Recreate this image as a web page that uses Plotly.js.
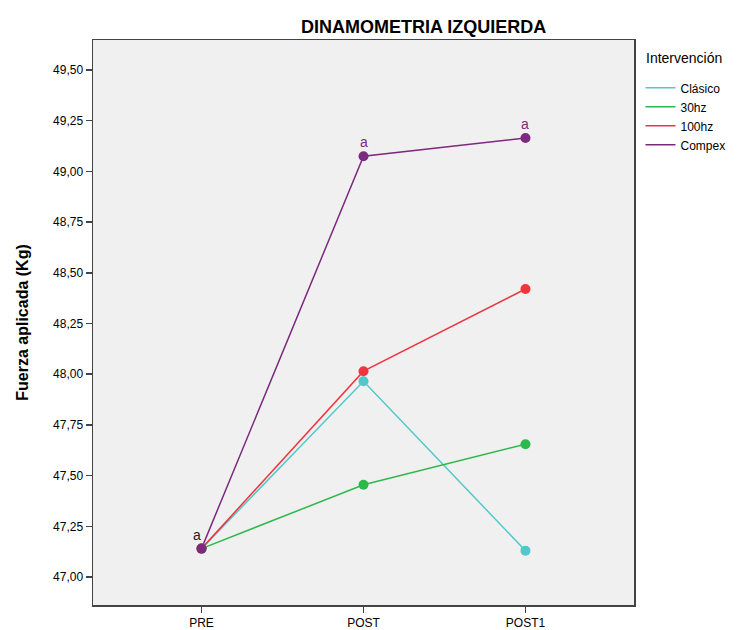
<!DOCTYPE html>
<html>
<head>
<meta charset="utf-8">
<script src="https://cdn.plot.ly/plotly-3.0.1.min.js"></script>
<style>html,body{margin:0;padding:0;background:#fff;}#chart{width:742px;height:630px;}</style>
</head>
<body>
<div id="chart"></div>
<script>
const categories = ["PRE", "POST", "POST1"];
const seriesNames = ["Clásico", "30hz", "100hz", "Compex"];
const clasico = [47.14, 47.965, 47.13];
const hz30 = [47.14, 47.455, 47.655];
const hz100 = [47.14, 48.015, 48.42];
const compex = [47.14, 49.075, 49.165];
const colors = ["#52c8ca", "#2db84c", "#f0353f", "#7b2a7f"];
const tickVals = [47.00, 47.25, 47.50, 47.75, 48.00, 48.25, 48.50, 48.75, 49.00, 49.25, 49.50];
const tickText = ["47,00", "47,25", "47,50", "47,75", "48,00", "48,25", "48,50", "48,75", "49,00", "49,25", "49,50"];
const annotCats = ["PRE", "POST", "POST1"];
const annotVals = [47.14, 49.075, 49.165];
const annotText = ["a", "a", "a"];
const annotColors = ["#222222", "#7b2a7f", "#7b2a7f"];
const legendTitle = "Intervención";

const series = [clasico, hz30, hz100, compex];
const traces = [];
series.forEach((vals, i) => {
  traces.push({
    x: categories, y: vals, type: "scatter", mode: "lines",
    name: seriesNames[i], line: {color: colors[i], width: 1.5},
    showlegend: true, hoverinfo: "skip"
  });
});
series.forEach((vals, i) => {
  traces.push({
    x: categories, y: vals, type: "scatter", mode: "markers",
    marker: {color: colors[i], size: 10}, showlegend: false, hoverinfo: "skip"
  });
});

const annotations = annotCats.map((c, i) => ({
  x: c, y: annotVals[i], xref: "x", yref: "y", text: annotText[i],
  showarrow: false, yshift: 14, xshift: i === 0 ? -5 : 0,
  font: {family: "Liberation Sans, Arial, sans-serif", size: 14, color: annotColors[i]}
}));
annotations.push({
  x: 1.0185, y: 0.968, xref: "paper", yref: "paper", xanchor: "left", yanchor: "middle",
  text: legendTitle, showarrow: false,
  font: {family: "Liberation Sans, Arial, sans-serif", size: 14, color: "#000"}
});

const layout = {
  width: 742, height: 630,
  margin: {l: 93, r: 105, t: 40, b: 25},
  paper_bgcolor: "#ffffff",
  plot_bgcolor: "#f0f0f0",
  font: {family: "Liberation Sans, Arial, sans-serif", color: "#000"},
  title: {text: "<b>DINAMOMETRIA IZQUIERDA</b>", x: 0.571, xanchor: "center", y: 0.957, yanchor: "middle",
          font: {size: 18, color: "#000", family: "Liberation Sans, Arial, sans-serif"}},
  xaxis: {
    type: "category", categoryorder: "array", categoryarray: categories,
    range: [-0.67, 2.67], showgrid: false, zeroline: false,
    showline: true, linecolor: "#444", linewidth: 1.5, mirror: true,
    ticks: "outside", ticklen: 6, tickcolor: "#444", tickwidth: 1.5,
    tickfont: {size: 12, color: "#000"}
  },
  yaxis: {
    range: [46.862, 49.648], showgrid: false, zeroline: false,
    showline: true, linecolor: "#444", linewidth: 1.5, mirror: true,
    ticks: "outside", ticklen: 6, tickcolor: "#444", tickwidth: 1.5,
    tickvals: tickVals, ticktext: tickText,
    tickfont: {size: 12, color: "#000"},
    title: {text: "<b>Fuerza aplicada (Kg)</b>", font: {size: 16, color: "#000"}, standoff: 20}
  },
  legend: {
    x: 1.012, xanchor: "left", y: 0.941, yanchor: "top",
    bgcolor: "rgba(0,0,0,0)", borderwidth: 0,
    font: {size: 12, color: "#000"}, itemwidth: 30, tracegroupgap: 0
  },
  annotations: annotations
};

Plotly.newPlot("chart", traces, layout, {displayModeBar: false, staticPlot: true});
</script>
</body>
</html>
